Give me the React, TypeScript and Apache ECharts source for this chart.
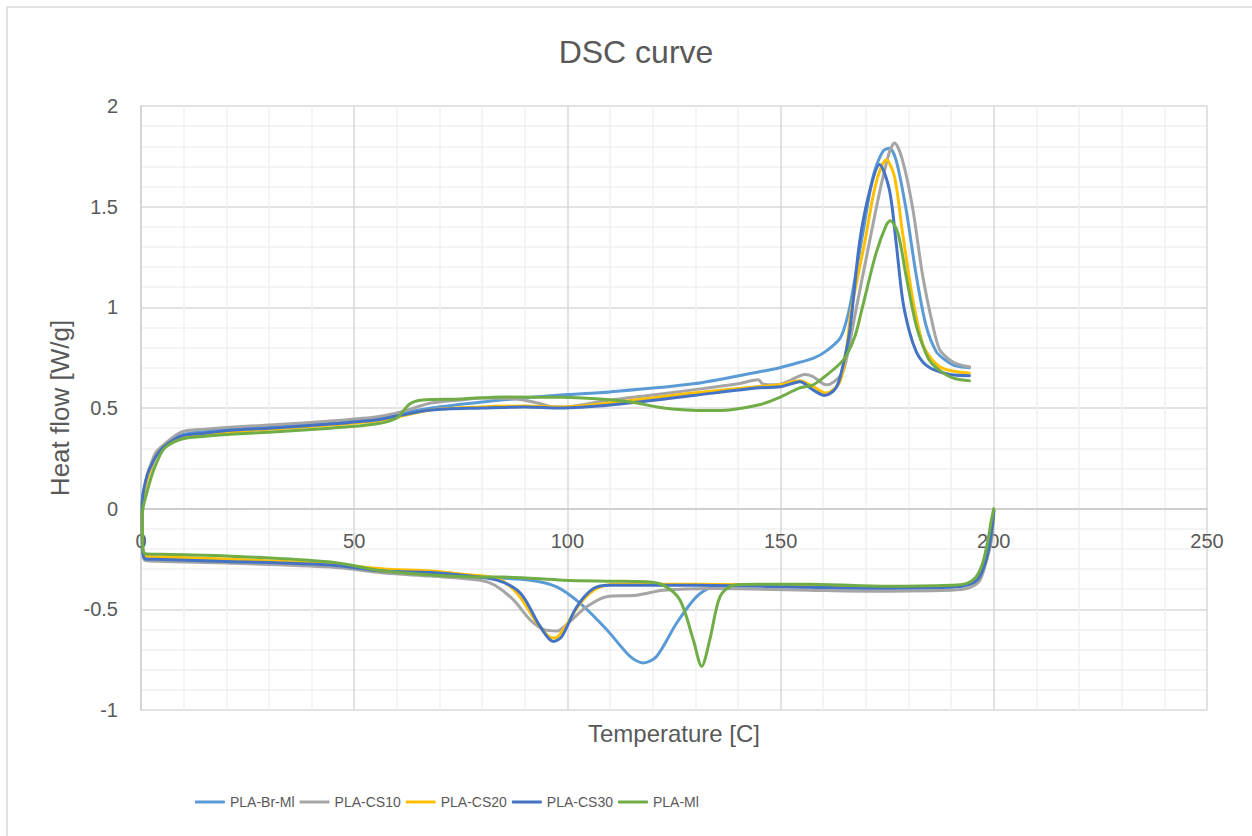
import React, { useEffect, useRef } from "react";
import * as echarts from "echarts";

// [temperature (C), heat flow (W/g)] — lower (cooling) branch from 200 down to 0, then upper branch from 0 up to ~194
const seriesNames = ["PLA-Br-Ml", "PLA-CS10", "PLA-CS20", "PLA-CS30", "PLA-Ml"];
const seriesColors = ["#5B9BD5", "#A5A5A5", "#FFC000", "#4472C4", "#70AD47"];

const brMl: number[][] = [
  [200, -0.01], [199.7, -0.06], [199, -0.16], [198, -0.27], [196.5, -0.34], [194, -0.375], [190, -0.385],
  [175, -0.39], [160, -0.385], [150, -0.38], [140, -0.377], [134.2, -0.388], [130.3, -0.437], [125.6, -0.569],
  [120.9, -0.734], [117.8, -0.766], [114.7, -0.734], [109.2, -0.6], [103, -0.47], [97.5, -0.388], [91.3, -0.355],
  [80, -0.34], [68, -0.322], [57, -0.305], [44.5, -0.28], [20, -0.26], [5, -0.252], [1, -0.247], [0.4, -0.2],
  [0.25, -0.05], [0.35, 0.05], [0.8, 0.1], [1.5, 0.16], [2.3, 0.2], [3.5, 0.26], [5.5, 0.31], [9.4, 0.365],
  [15, 0.385], [21, 0.395], [30, 0.41], [44.5, 0.43], [55, 0.45], [60, 0.47], [68, 0.5], [80, 0.53], [90, 0.55],
  [98.3, 0.565], [110, 0.58], [129.5, 0.62], [145, 0.68], [149.8, 0.7], [154.5, 0.727], [157.6, 0.746],
  [160.5, 0.78], [163.9, 0.845], [165.4, 0.93], [166.4, 1.02], [169.3, 1.37], [171.7, 1.65], [174, 1.775],
  [175.5, 1.79], [177.1, 1.73], [179.4, 1.49], [181.8, 1.16], [184.1, 0.91], [186.5, 0.78], [188.8, 0.735],
  [190.5, 0.713], [192.5, 0.703], [194.3, 0.7],
];

const cs10: number[][] = [
  [200, -0.01], [199.9, -0.06], [199.4, -0.16], [198, -0.28], [196.6, -0.36], [194, -0.395], [190, -0.405],
  [170, -0.41], [156.8, -0.405], [140, -0.398], [134.2, -0.396], [122.5, -0.405], [116.2, -0.43], [109.2, -0.437],
  [104.5, -0.487], [100.6, -0.56], [97.5, -0.608], [94.4, -0.6], [91.3, -0.553], [87.4, -0.454], [83, -0.38],
  [79.6, -0.355], [68, -0.335], [57, -0.32], [44.5, -0.29], [20, -0.27], [5, -0.262], [1, -0.258], [0.4, -0.22],
  [0.25, -0.05], [0.35, 0.05], [0.8, 0.1], [1.5, 0.17], [2.3, 0.22], [3.5, 0.28], [5.5, 0.32], [9.4, 0.38],
  [15, 0.395], [21, 0.405], [30, 0.415], [44.5, 0.435], [55, 0.455], [60, 0.475], [64, 0.5], [68, 0.525],
  [75, 0.54], [80, 0.55], [88, 0.545], [93, 0.525], [96, 0.508], [99, 0.505], [103, 0.515], [110, 0.54],
  [120, 0.565], [129.5, 0.59], [140, 0.62], [144.8, 0.64], [145.8, 0.62], [149, 0.615], [152, 0.635],
  [155.7, 0.667], [157.6, 0.656], [160.7, 0.615], [162.5, 0.63], [164.6, 0.68], [166, 0.8], [167.7, 0.99],
  [170.8, 1.32], [173.2, 1.57], [175.5, 1.77], [176.7, 1.816], [178.6, 1.73], [181, 1.49], [183.3, 1.16],
  [185.7, 0.91], [187.3, 0.79], [189.6, 0.74], [191.2, 0.72], [193, 0.71], [194.3, 0.705],
];

const cs20: number[][] = [
  [200, -0.01], [199.8, -0.06], [199.2, -0.16], [198, -0.27], [196.2, -0.345], [193.5, -0.375], [190, -0.385],
  [170, -0.388], [156.8, -0.382], [130, -0.375], [111.6, -0.375], [106.9, -0.396], [103, -0.47], [99.1, -0.6],
  [97.1, -0.643], [95.6, -0.635], [92.9, -0.569], [88.2, -0.42], [83.5, -0.347], [75, -0.325], [68, -0.309],
  [57, -0.3], [44.5, -0.275], [20, -0.25], [5, -0.24], [1, -0.235], [0.4, -0.2], [0.25, -0.05], [0.35, 0.04],
  [0.8, 0.09], [1.5, 0.15], [2.3, 0.2], [3.5, 0.26], [5.5, 0.31], [9.4, 0.355], [15, 0.37], [21, 0.38],
  [30, 0.395], [44.5, 0.415], [55, 0.435], [60, 0.455], [68, 0.49], [80, 0.505], [90, 0.51], [98.3, 0.505],
  [110, 0.525], [129.5, 0.574], [145, 0.607], [149.8, 0.615], [154.5, 0.635], [157.6, 0.607], [160.7, 0.574],
  [163.9, 0.63], [165.5, 0.8], [166.6, 0.99], [169.7, 1.32], [172.4, 1.62], [174.8, 1.733], [176.7, 1.65],
  [178.6, 1.37], [181, 1.04], [183.3, 0.82], [185, 0.755], [187.3, 0.705], [190, 0.685], [194.3, 0.673],
];

const cs30: number[][] = [
  [200, -0.01], [199.8, -0.06], [199.2, -0.16], [198, -0.27], [196.3, -0.35], [193.8, -0.38], [190, -0.39],
  [170, -0.395], [156.8, -0.39], [130, -0.38], [110, -0.38], [106.1, -0.396], [102.2, -0.487], [98.7, -0.635],
  [96.7, -0.66], [93.6, -0.585], [89, -0.42], [83.5, -0.355], [75, -0.33], [68, -0.317], [57, -0.31],
  [44.5, -0.28], [20, -0.262], [5, -0.252], [1, -0.25], [0.4, -0.21], [0.25, -0.05], [0.35, 0.05], [0.8, 0.11],
  [1.5, 0.17], [2.3, 0.21], [3.5, 0.26], [5.5, 0.31], [9.4, 0.36], [15, 0.375], [21, 0.39], [30, 0.4],
  [44.5, 0.42], [55, 0.44], [60, 0.46], [68, 0.49], [80, 0.5], [90, 0.505], [98.3, 0.5], [110, 0.515],
  [129.5, 0.562], [145, 0.6], [149.8, 0.605], [153, 0.623], [154.5, 0.63], [157.6, 0.59], [160.3, 0.562],
  [163, 0.6], [164.5, 0.7], [166.2, 0.88], [168.5, 1.32], [170.8, 1.57], [173.2, 1.71], [175.5, 1.585],
  [177.1, 1.32], [178.6, 1.04], [180.2, 0.88], [181.8, 0.78], [183.3, 0.73], [185, 0.7], [187.3, 0.68],
  [190, 0.665], [194.3, 0.66],
];

const ml: number[][] = [
  [200, 0], [199.9, -0.01], [199.4, -0.06], [198.6, -0.16], [197.4, -0.27], [195.8, -0.34], [193.5, -0.372],
  [190, -0.38], [175, -0.385], [156.8, -0.375], [145, -0.375], [138.9, -0.38], [135.8, -0.437], [133.4, -0.65],
  [131.5, -0.783], [129.5, -0.65], [126.4, -0.454], [122.5, -0.38], [118.6, -0.363], [110, -0.36], [99, -0.355],
  [85, -0.34], [80, -0.34], [68, -0.33], [57, -0.31], [44.5, -0.265], [20, -0.235], [5, -0.227], [1, -0.224],
  [0.45, -0.2], [0.35, -0.05], [0.45, 0], [1, 0.05], [2.3, 0.15], [3.5, 0.22], [5.5, 0.3], [9.4, 0.345],
  [15, 0.36], [21, 0.37], [30, 0.38], [44.5, 0.4], [55, 0.42], [60, 0.45], [63, 0.52], [66, 0.54], [75, 0.545],
  [85, 0.555], [98.3, 0.553], [110, 0.541], [115, 0.53], [121.7, 0.503], [128, 0.49], [133.4, 0.487],
  [138, 0.49], [145, 0.516], [149.8, 0.553], [154.5, 0.6], [157.6, 0.615], [160, 0.65], [163.9, 0.72],
  [165.4, 0.76], [167.5, 0.86], [169.3, 1.01], [172.4, 1.27], [174.8, 1.41], [175.7, 1.43], [177.5, 1.37],
  [179.4, 1.16], [181.8, 0.91], [184.1, 0.77], [185.5, 0.72], [188.8, 0.665], [191, 0.645], [194.3, 0.635],
];

const allData = [brMl, cs10, cs20, cs30, ml];

const FONT = "'Liberation Sans', Arial, sans-serif";

export default function App() {
  const ref = useRef<HTMLDivElement>(null);

  useEffect(() => {
    if (!ref.current) return;
    const chart = echarts.init(ref.current, undefined, { renderer: "svg" });
    chart.setOption({
      animation: false,
      backgroundColor: "#ffffff",
      title: {
        text: "DSC curve",
        left: 631,
        textAlign: "center",
        top: 31,
        textStyle: { fontFamily: FONT, fontSize: 32, fontWeight: "normal", color: "#595959" },
      },
      graphic: [
        { type: "line", shape: { x1: 7, y1: 7, x2: 1260, y2: 7 }, style: { stroke: "#d9d9d9", lineWidth: 1.5 } },
        { type: "line", shape: { x1: 7, y1: 7, x2: 7, y2: 840 }, style: { stroke: "#d9d9d9", lineWidth: 1.5 } },
      ],
      legend: {
        left: 190,
        top: 790,
        icon: "roundRect",
        itemWidth: 30,
        itemHeight: 3,
        itemGap: 5,
        textStyle: { fontFamily: FONT, fontSize: 14, color: "#595959" },
        data: seriesNames,
      },
      grid: { left: 141, right: 45, top: 106, bottom: 126, containLabel: false, outerBoundsMode: "none" },
      xAxis: {
        type: "value",
        min: 0,
        max: 250,
        interval: 50,
        offset: -201,
        name: "Temperature [C]",
        nameLocation: "middle",
        nameGap: 212,
        nameTextStyle: { fontFamily: FONT, fontSize: 24, color: "#595959" },
        axisLine: { show: true, onZero: false, lineStyle: { color: "#c8c8c8", width: 1.5 } },
        axisTick: { show: false },
        axisLabel: { margin: 22, fontFamily: FONT, fontSize: 20, color: "#595959" },
        splitLine: { show: true, lineStyle: { color: "#d9d9d9", width: 1.5 } },
        minorTick: { show: false, splitNumber: 5 },
        minorSplitLine: { show: true, lineStyle: { color: "#f0f0f0", width: 1.5 } },
      },
      yAxis: {
        type: "value",
        min: -1,
        max: 2,
        interval: 0.5,
        name: "Heat flow [W/g]",
        nameLocation: "middle",
        nameRotate: 90,
        nameGap: 68,
        nameTextStyle: { fontFamily: FONT, fontSize: 26, color: "#595959" },
        axisLine: { show: true, onZero: false, lineStyle: { color: "#d0d0d0", width: 1.5 } },
        axisTick: { show: false },
        axisLabel: { margin: 23, fontFamily: FONT, fontSize: 20, color: "#595959" },
        splitLine: { show: true, lineStyle: { color: "#d9d9d9", width: 1.5 } },
        minorTick: { show: false, splitNumber: 5 },
        minorSplitLine: { show: true, lineStyle: { color: "#f0f0f0", width: 1.5 } },
      },
      series: seriesNames.map((name, i) => ({
        name,
        type: "line",
        data: allData[i],
        symbol: "none",
        smooth: 0.3,
        color: seriesColors[i],
        lineStyle: { color: seriesColors[i], width: 3, cap: "round", join: "round" },
      })),
    });
    return () => chart.dispose();
  }, []);

  return (
    <div
      ref={ref}
      style={{ position: "absolute", left: 0, top: 0, width: 1252, height: 836 }}
    />
  );
}
